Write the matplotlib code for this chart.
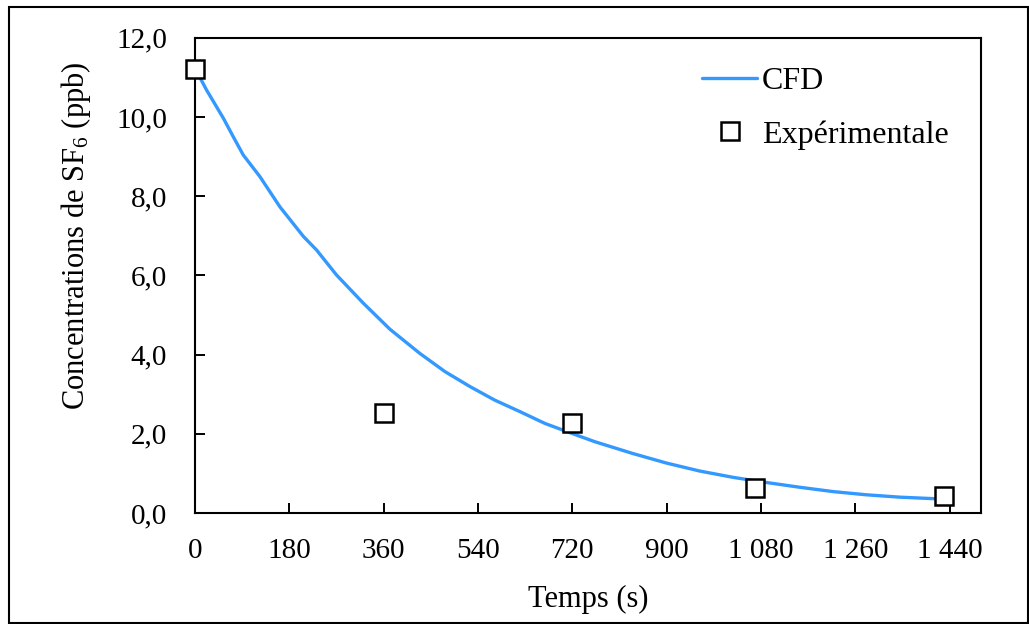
import numpy as np
import matplotlib
matplotlib.use('Agg')
import matplotlib.pyplot as plt
from matplotlib.patches import Rectangle

plt.rcParams['font.family'] = ['Liberation Serif', 'DejaVu Serif']
plt.rcParams['mathtext.default'] = 'regular'

# CFD curve
cfd_t = [0, 22, 54, 73, 92, 124, 162, 207, 232, 270, 321, 372, 429, 477, 525, 572, 620, 668,
         715, 763, 836, 900, 963, 1027, 1080, 1154, 1218, 1281, 1345, 1430]
cfd_c = [11.23, 10.68, 9.97, 9.50, 9.04, 8.49, 7.73, 6.98, 6.64, 6.01, 5.30, 4.64, 4.03, 3.57,
         3.19, 2.85, 2.56, 2.26, 2.03, 1.80, 1.50, 1.26, 1.06, 0.90, 0.79, 0.65, 0.54, 0.46,
         0.40, 0.35]

# experimental points
exp_t = [0, 360, 720, 1069, 1429]
exp_c = [11.2, 2.52, 2.27, 0.64, 0.44]

x_ticks = [0, 180, 360, 540, 720, 900, 1080, 1260, 1440]
x_labels = ['0', '180', '360', '540', '720', '900', '1 080', '1 260', '1 440']
y_ticks = [0, 2, 4, 6, 8, 10, 12]
y_labels = ['0,0', '2,0', '4,0', '6,0', '8,0', '10,0', '12,0']

fig = plt.figure(figsize=(10.29, 6.24), dpi=100)
ax = fig.add_axes([195 / 1029, 1 - 513 / 624, (981 - 195) / 1029, (513 - 37.7) / 624])

ax.plot(cfd_t, cfd_c, color='#3399FF', lw=2.4, label='CFD', solid_capstyle='round',
        solid_joinstyle='round', zorder=2)
ax.plot(exp_t, exp_c, ls='none', marker='s', ms=13.5, mfc='white', mec='black', mew=1.8,
        label='Expérimentale', zorder=3, clip_on=False)

ax.set_xlim(0, 1500)
ax.set_ylim(0, 12)
ax.set_xticks(x_ticks)
ax.set_xticklabels(x_labels)
ax.set_yticks(y_ticks)
ax.set_yticklabels(y_labels)
ax.tick_params(direction='in', length=7, width=1.4, labelsize=21)
ax.tick_params(axis='y', pad=20)
ax.tick_params(axis='x', pad=18)
for s in ax.spines.values():
    s.set_linewidth(1.5)

ax.set_xlabel('Temps (s)', fontsize=22)
ax.set_ylabel('Concentrations de SF$_6$ (ppb)', fontsize=22)
ax.xaxis.set_label_coords(0.5, -0.152)
ax.yaxis.set_label_coords(-0.13, 0.583)

leg = ax.legend(loc='upper left', bbox_to_anchor=(0.629, 0.965), frameon=False, fontsize=23,
                handlelength=1.72, handletextpad=0.16, labelspacing=0.74, borderaxespad=0)

fig.patches.append(Rectangle((8.5 / 1029, 1.5 / 624), 1019 / 1029, 615.5 / 624,
                             transform=fig.transFigure, fill=False, ec='black', lw=1.5))

fig.savefig('out.png', dpi=100)
